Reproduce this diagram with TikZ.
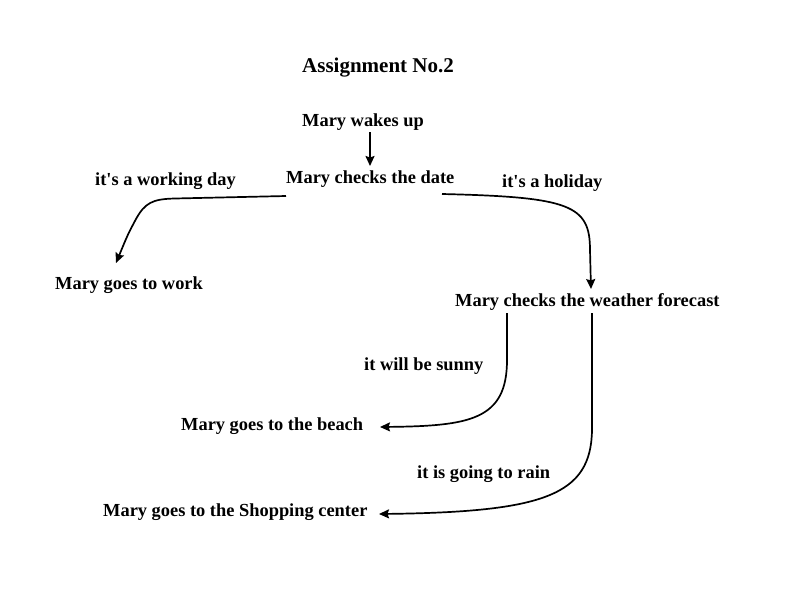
\documentclass[tikz,border=0pt]{standalone}
\usepackage{fontspec}
\setmainfont{Liberation Serif}
\usetikzlibrary{arrows.meta,calc}
\begin{document}
\begin{tikzpicture}[x=1pt,y=-1pt,
  lbl/.style={anchor=base west,inner sep=0pt,font=\fontsize{18.4}{22}\selectfont\bfseries},
  ttl/.style={anchor=base west,inner sep=0pt,font=\fontsize{21}{25}\selectfont\bfseries},
  conn/.style={line width=1.7pt,-{Stealth[length=10pt,width=9pt,inset=1.5pt]}}]
\useasboundingbox (0,0) rectangle (800,600);
\node[ttl] (title) at (302,72) {Assignment No.2};
\node[lbl] (wakes) at (302,126.5) {Mary wakes up};
\node[lbl] (date) at (286,183) {Mary checks the date};
\node[lbl] (working) at (95,185) {it\textquotesingle s a working day};
\node[lbl] (holiday) at (502,187) {it\textquotesingle s a holiday};
\node[lbl] (work) at (55,289) {Mary goes to work};
\node[lbl] (weather) at (455,306) {Mary checks the weather forecast};
\node[lbl] (sunny) at (364,370) {it will be sunny};
\node[lbl] (beach) at (181,430.5) {Mary goes to the beach};
\node[lbl] (rain) at (417,478) {it is going to rain};
\node[lbl] (shopping) at (103,516.7) {Mary goes to the Shopping center};
% connectors
\draw[conn] ($(wakes.base west)+(68,5.5)$) -- ($(date.base west)+(84,-17)$);
\draw[conn] ($(date.base west)+(0,13)$) -- (175,198.5)
  .. controls (152,199) and (145,203) .. (136,219)
  .. controls (128,234) .. ($(work.base west)+(61,-26)$);
\draw[conn] ($(date.base west)+(156,11)$)
  .. controls (570,197) and (590,205) .. (590,250) -- ($(weather.base west)+(136,-17)$);
\draw[conn] ($(weather.base west)+(52,7)$) -- (507,360)
  .. controls (507,420) and (470,426) .. ($(beach.base west)+(199,-3.5)$);
\draw[conn] ($(weather.base west)+(137,7)$) -- (592,430)
  .. controls (591,495) and (545,512) .. ($(shopping.base west)+(276,-2.7)$);
\end{tikzpicture}
\end{document}
